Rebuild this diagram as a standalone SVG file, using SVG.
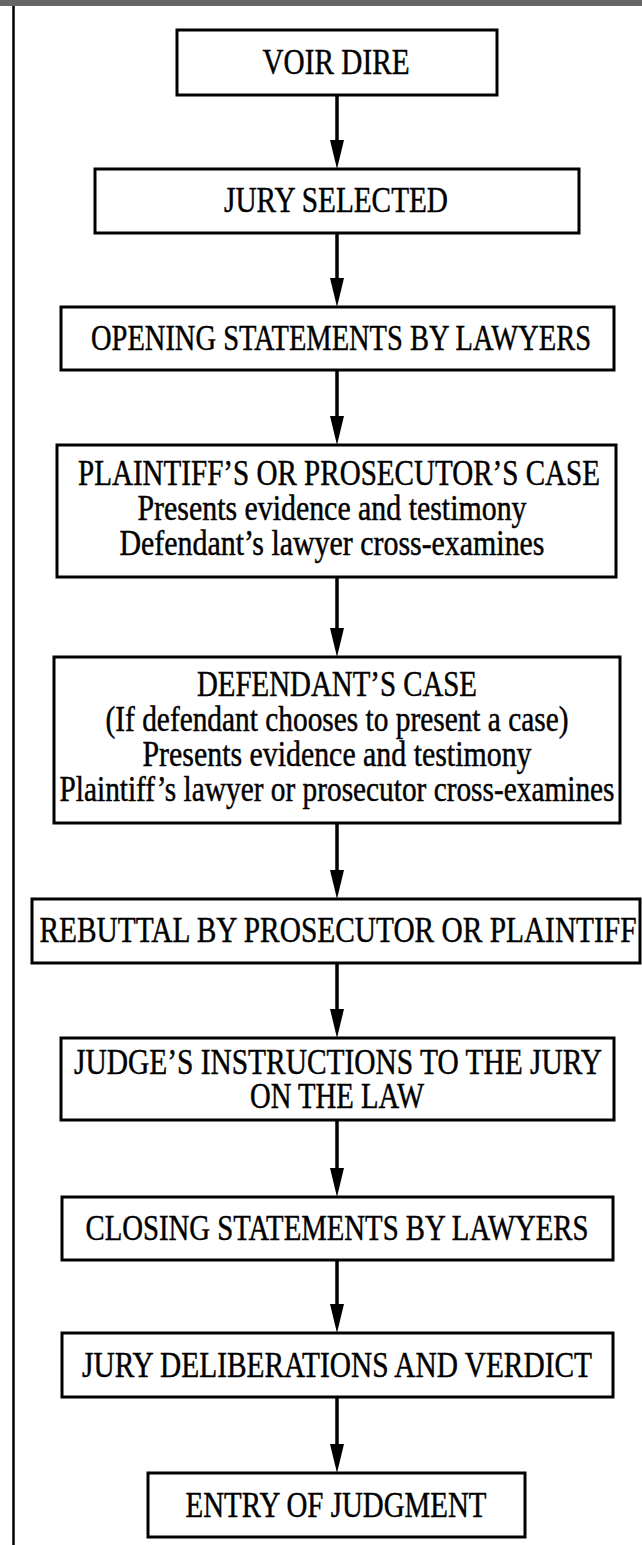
<svg xmlns="http://www.w3.org/2000/svg" width="642" height="1545" viewBox="0 0 642 1545">
<style>
.box{fill:#fff;stroke:#000;stroke-width:3}
.t{font-family:"Liberation Serif","Times New Roman",serif;font-size:35px;fill:#000;stroke:#000;stroke-width:0.45;text-anchor:middle}
.c{stroke:#000;stroke-width:3.5;fill:none}
.ah{fill:#000}
</style>
<rect x="0" y="0" width="642" height="6" fill="#666"/>
<line x1="13.5" y1="6" x2="13.5" y2="1545" stroke="#000" stroke-width="2.5"/>
<g id="connectors">
<line class="c" x1="337" y1="95" x2="337" y2="145"/><polygon class="ah" points="337,169 330,140 344,140"/>
<line class="c" x1="337" y1="233" x2="337" y2="283"/><polygon class="ah" points="337,307 330,278 344,278"/>
<line class="c" x1="337" y1="370" x2="337" y2="421"/><polygon class="ah" points="337,445 330,416 344,416"/>
<line class="c" x1="337" y1="577" x2="337" y2="633"/><polygon class="ah" points="337,657 330,628 344,628"/>
<line class="c" x1="337" y1="823" x2="337" y2="875"/><polygon class="ah" points="337,899 330,870 344,870"/>
<line class="c" x1="337" y1="963" x2="337" y2="1014"/><polygon class="ah" points="337,1038 330,1009 344,1009"/>
<line class="c" x1="337" y1="1120" x2="337" y2="1173"/><polygon class="ah" points="337,1197 330,1168 344,1168"/>
<line class="c" x1="337" y1="1260" x2="337" y2="1309"/><polygon class="ah" points="337,1333 330,1304 344,1304"/>
<line class="c" x1="337" y1="1397" x2="337" y2="1449"/><polygon class="ah" points="337,1473 330,1444 344,1444"/>
</g>
<g id="voir-dire">
<rect class="box" x="177" y="30" width="320" height="65"/>
<text class="t" x="336" y="74" textLength="147" lengthAdjust="spacingAndGlyphs">VOIR DIRE</text>
</g>
<g id="jury-selected">
<rect class="box" x="95" y="169" width="484" height="64"/>
<text class="t" x="336" y="212" textLength="224" lengthAdjust="spacingAndGlyphs">JURY SELECTED</text>
</g>
<g id="opening">
<rect class="box" x="61" y="307" width="553" height="63"/>
<text class="t" x="341" y="350" textLength="500" lengthAdjust="spacingAndGlyphs">OPENING STATEMENTS BY LAWYERS</text>
</g>
<g id="plaintiff-case">
<rect class="box" x="57" y="445" width="559" height="132"/>
<text class="t" x="339" y="485" textLength="522" lengthAdjust="spacingAndGlyphs">PLAINTIFF’S OR PROSECUTOR’S CASE</text>
<text class="t" x="332" y="520" textLength="389" lengthAdjust="spacingAndGlyphs">Presents evidence and testimony</text>
<text class="t" x="332" y="555" textLength="425" lengthAdjust="spacingAndGlyphs">Defendant’s lawyer cross-examines</text>
</g>
<g id="defendant-case">
<rect class="box" x="54" y="657" width="566" height="166"/>
<text class="t" x="337" y="696" textLength="280" lengthAdjust="spacingAndGlyphs">DEFENDANT’S CASE</text>
<text class="t" x="337" y="731" textLength="463" lengthAdjust="spacingAndGlyphs">(If defendant chooses to present a case)</text>
<text class="t" x="337" y="766" textLength="389" lengthAdjust="spacingAndGlyphs">Presents evidence and testimony</text>
<text class="t" x="337" y="801" textLength="555" lengthAdjust="spacingAndGlyphs">Plaintiff’s lawyer or prosecutor cross-examines</text>
</g>
<g id="rebuttal">
<rect class="box" x="32" y="899" width="608" height="64"/>
<text class="t" x="338" y="942" textLength="597" lengthAdjust="spacingAndGlyphs">REBUTTAL BY PROSECUTOR OR PLAINTIFF</text>
</g>
<g id="judge-instructions">
<rect class="box" x="61" y="1038" width="553" height="82"/>
<text class="t" x="338" y="1074" textLength="528" lengthAdjust="spacingAndGlyphs">JUDGE’S INSTRUCTIONS TO THE JURY</text>
<text class="t" x="337" y="1108" textLength="174" lengthAdjust="spacingAndGlyphs">ON THE LAW</text>
</g>
<g id="closing">
<rect class="box" x="62" y="1197" width="551" height="63"/>
<text class="t" x="337" y="1240" textLength="503" lengthAdjust="spacingAndGlyphs">CLOSING STATEMENTS BY LAWYERS</text>
</g>
<g id="deliberations">
<rect class="box" x="62" y="1333" width="551" height="64"/>
<text class="t" x="337" y="1377" textLength="510" lengthAdjust="spacingAndGlyphs">JURY DELIBERATIONS AND VERDICT</text>
</g>
<g id="entry-judgment">
<rect class="box" x="148" y="1473" width="377" height="64"/>
<text class="t" x="336" y="1517" textLength="301" lengthAdjust="spacingAndGlyphs">ENTRY OF JUDGMENT</text>
</g>
</svg>
